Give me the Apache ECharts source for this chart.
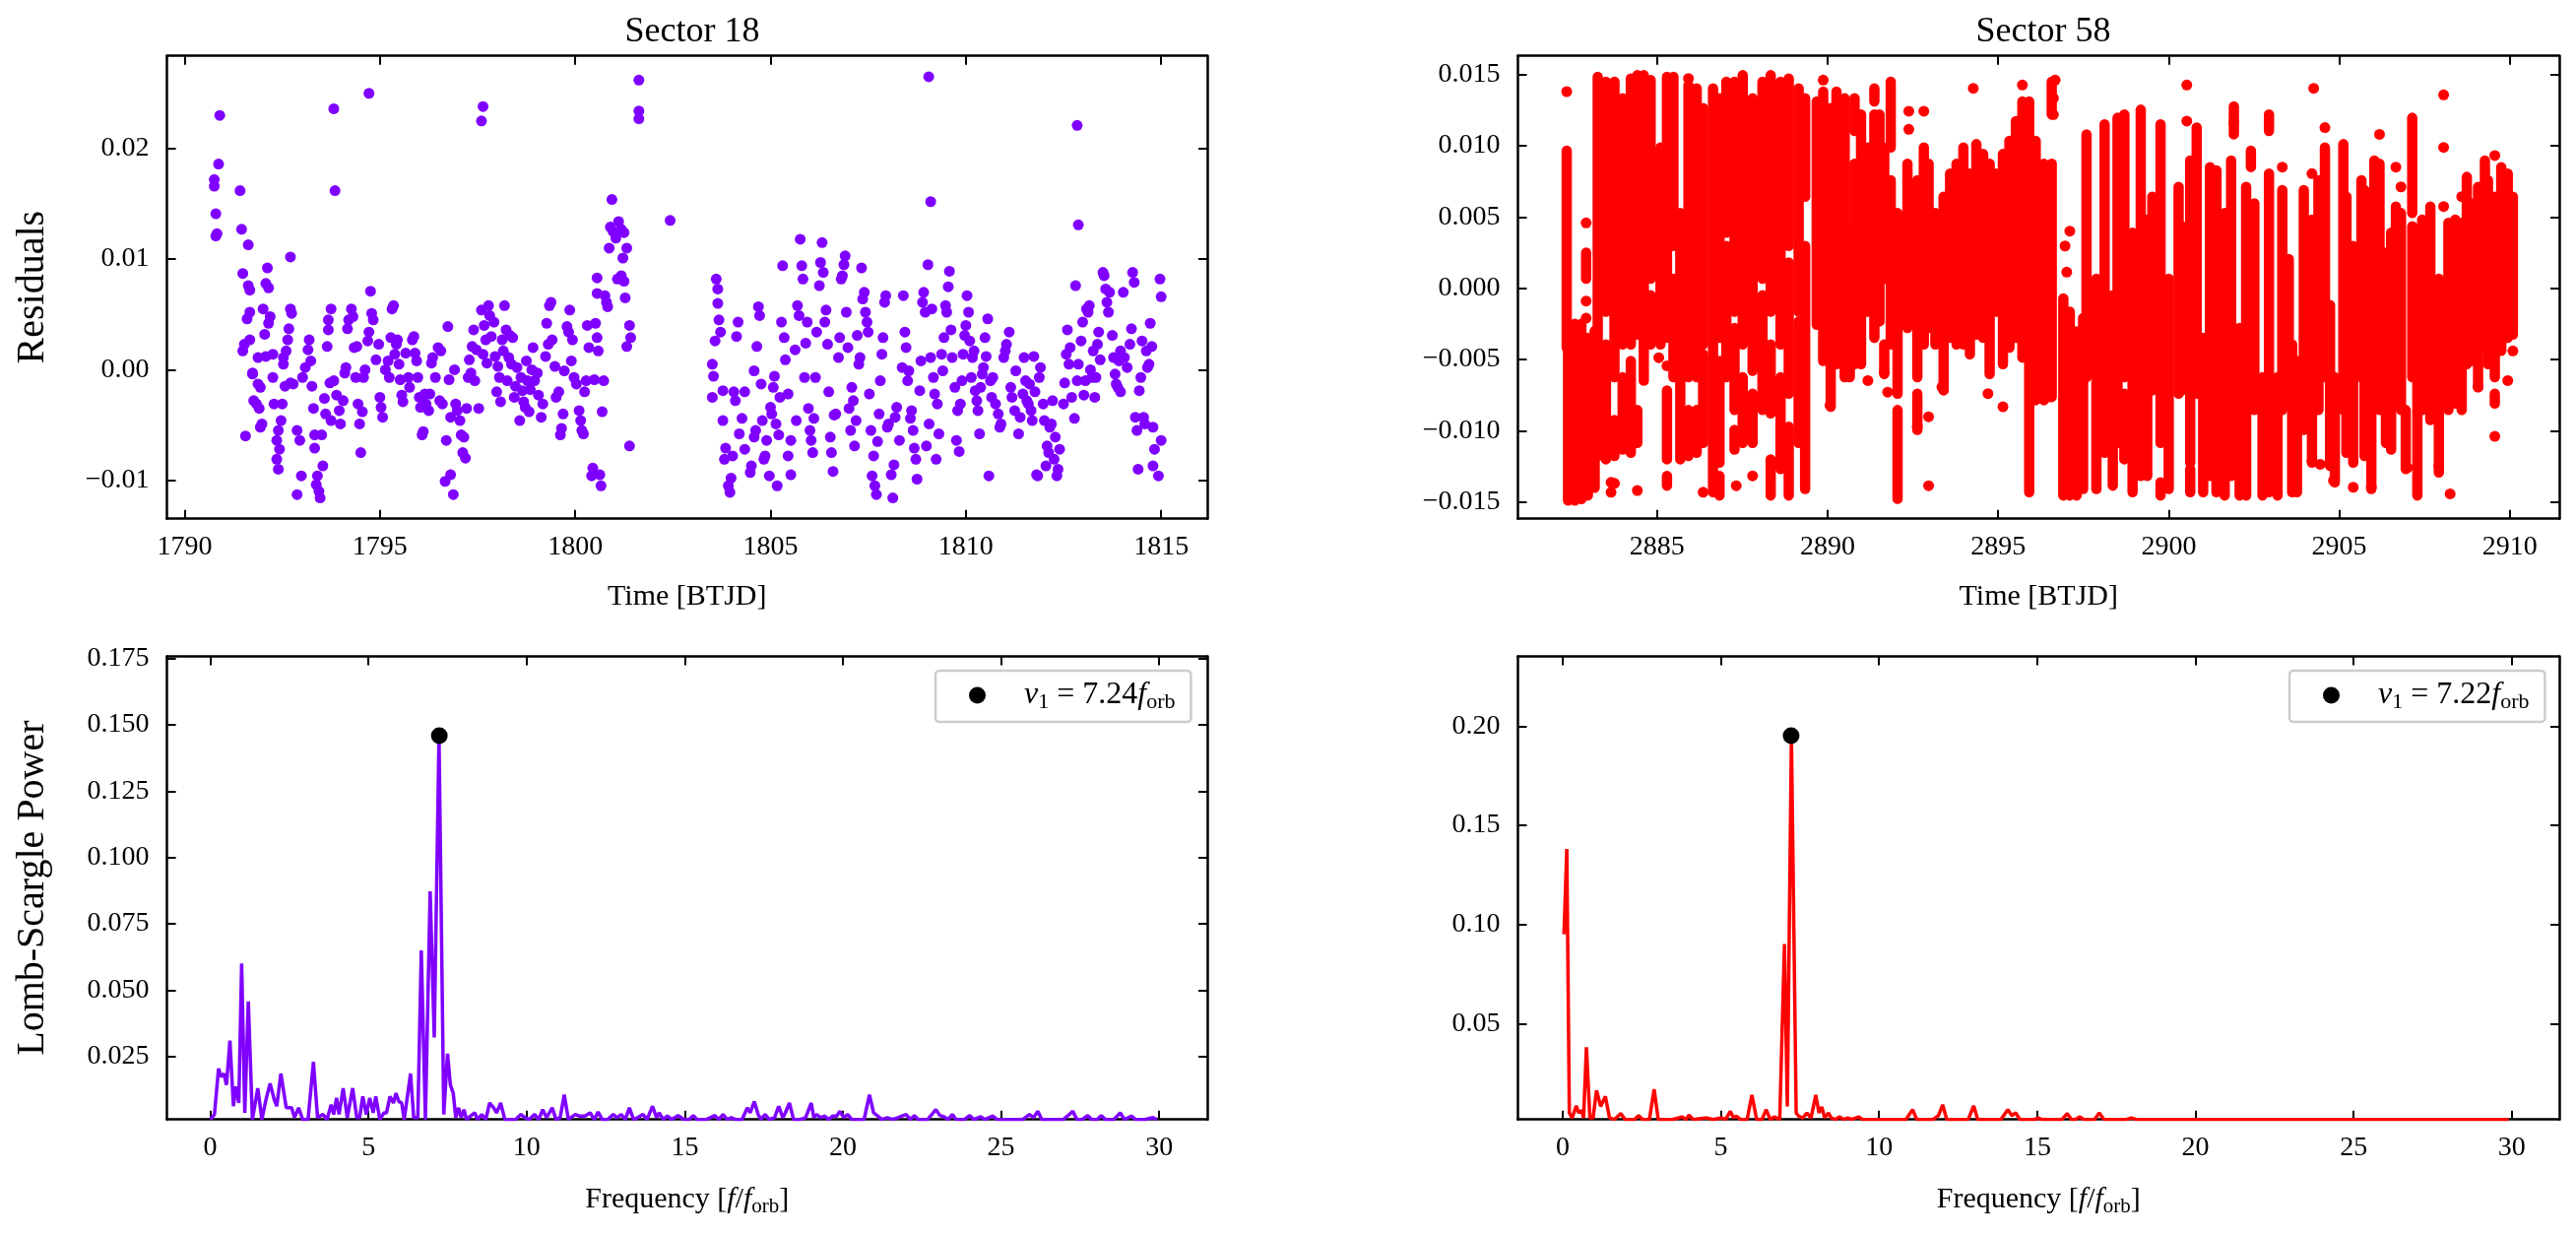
<!DOCTYPE html>
<html><head><meta charset="utf-8">
<script src="https://cdn.jsdelivr.net/npm/echarts@6/dist/echarts.min.js"></script>
<style>html,body{margin:0;padding:0;background:#fff}#c{width:2616px;height:1254px}</style>
</head><body><div id="c"></div>
<script>
// ---- Sector 18 residuals [time BTJD, residual] ----
const s18Points = [
[1790.90,0.0230],[1790.87,0.0186],[1790.76,0.0172],[1790.76,0.0166],[1790.80,0.0141],[1790.83,0.0123],[1790.80,0.0121],[1791.42,0.0162],[1791.46,0.0127],[1791.63,0.0113],[1791.49,0.0087],[1791.63,0.0076],[1791.67,0.0072],[1792.12,0.0092],[1792.08,0.0078],[1792.15,0.0074],[1792.71,0.0102],[1793.82,0.0236],[1793.85,0.0162],[1794.72,0.0250],[1794.76,0.0071],[1797.64,0.0238],[1797.60,0.0225],[1801.63,0.0262],[1801.63,0.0234],[1801.63,0.0227],[1800.94,0.0154],[1802.43,0.0135],[1800.90,0.0129],[1800.97,0.0125],[1801.18,0.0127],[1801.25,0.0124],[1801.04,0.0119],[1801.11,0.0134],[1800.87,0.0110],[1801.32,0.0110],[1801.22,0.0101],[1801.18,0.0085],[1801.25,0.0080],[1801.08,0.0082],[1800.56,0.0083],[1800.56,0.0069],[1800.83,0.0057],[1801.28,0.0065],[1801.39,0.0040],[1801.42,0.0029],[1801.32,0.0021],[1801.39,-0.0069],[1809.05,0.0265],[1809.10,0.0152],[1812.85,0.0221],[1812.88,0.0131],
[1791.53,0.0023],[1791.49,0.0017],[1791.67,0.0027],[1791.60,0.0046],[1791.67,0.0052],[1791.56,-0.0060],[1791.74,-0.0003],[1791.77,-0.0028],[1791.84,-0.0031],[1791.91,-0.0035],[1791.94,-0.0052],[1791.98,-0.0049],[1791.88,-0.0013],[1791.94,-0.0016],[1792.01,0.0055],[1792.05,0.0032],[1792.08,0.0012],[1791.88,0.0011],[1791.74,-0.0004],[1792.15,0.0042],[1792.19,0.0048],[1792.26,0.0014],[1792.26,-0.0007],[1792.29,-0.0031],[1792.40,-0.0055],[1792.36,-0.0064],[1792.43,-0.0072],[1792.36,-0.0081],[1792.40,-0.0090],[1792.47,-0.0046],[1792.50,-0.0031],[1792.53,0.0005],[1792.57,-0.0015],[1792.60,0.0017],[1792.64,0.0027],[1792.67,0.0037],[1792.71,0.0055],[1792.74,0.0051],[1792.78,-0.0013],[1792.71,-0.0012],[1792.53,0.0011],
[1792.88,-0.0055],[1792.95,-0.0064],[1792.99,-0.0096],[1792.88,-0.0113],[1793.02,-0.0007],[1793.09,0.0002],[1793.16,0.0018],[1793.19,0.0027],[1793.23,0.0008],[1793.26,-0.0015],[1793.30,-0.0035],[1793.33,-0.0059],[1793.33,-0.0071],[1793.40,-0.0096],[1793.37,-0.0104],[1793.44,-0.0110],[1793.47,-0.0116],[1793.54,-0.0087],[1793.51,-0.0059],[1793.58,-0.0026],[1793.61,-0.0040],[1793.65,0.0021],[1793.68,0.0045],[1793.75,0.0055],[1793.68,0.0036],[1793.72,-0.0012],[1793.75,-0.0046],
[1793.82,-0.0010],[1793.89,-0.0023],[1793.96,-0.0037],[1793.99,-0.0049],[1794.06,-0.0028],[1794.10,-0.0003],[1794.13,0.0002],[1794.17,0.0037],[1794.20,0.0045],[1794.27,0.0055],[1794.31,0.0048],[1794.34,0.0020],[1794.38,-0.0007],[1794.41,0.0021],[1794.44,-0.0031],[1794.48,-0.0049],[1794.51,-0.0075],[1794.55,-0.0038],[1794.58,-0.0007],[1794.62,0.0000],[1794.69,0.0026],[1794.72,0.0034],[1794.79,0.0051],[1794.83,0.0045],[1794.90,0.0009],[1794.97,0.0023],[1795.00,-0.0025],[1795.03,-0.0034],[1795.07,-0.0043],[1795.14,0.0000],
[1795.28,0.0029],[1795.31,0.0055],[1795.35,0.0058],[1795.21,0.0008],[1795.24,-0.0007],[1795.38,0.0014],[1795.42,0.0023],[1795.45,0.0027],[1795.49,0.0005],[1795.52,-0.0009],[1795.56,-0.0023],[1795.59,-0.0029],[1795.66,0.0015],[1795.73,-0.0007],[1795.76,-0.0016],[1795.83,0.0027],[1795.87,0.0030],[1795.90,0.0015],[1795.94,0.0008],[1795.97,-0.0007],[1796.01,-0.0025],[1796.04,-0.0034],[1796.08,-0.0059],[1796.11,-0.0056],[1796.15,-0.0022],[1796.18,-0.0031],[1796.25,-0.0037],[1796.28,-0.0022],[1796.32,0.0006],[1796.35,0.0011],
[1796.42,-0.0007],[1796.49,0.0020],[1796.53,-0.0028],[1796.56,0.0017],[1796.60,-0.0031],[1796.67,-0.0101],[1796.70,-0.0064],[1796.74,0.0039],[1796.77,-0.0009],[1796.81,-0.0043],[1796.81,-0.0095],[1796.88,-0.0113],[1796.91,0.0000],[1796.94,-0.0031],[1796.98,-0.0037],[1797.05,-0.0046],[1797.08,-0.0059],[1797.12,-0.0075],[1797.15,-0.0061],[1797.19,-0.0080],[1797.22,-0.0035],[1797.26,-0.0007],[1797.29,0.0009],[1797.33,-0.0003],[1797.36,0.0021],[1797.40,0.0036],[1797.43,-0.0010],[1797.47,0.0018],[1797.53,-0.0035],
[1797.60,0.0054],[1797.64,0.0014],[1797.67,0.0040],[1797.71,0.0027],[1797.74,0.0006],[1797.78,0.0058],[1797.81,0.0049],[1797.85,0.0030],[1797.92,0.0043],[1797.95,0.0012],[1797.99,-0.0020],[1798.02,0.0003],[1798.06,-0.0007],[1798.09,-0.0029],[1798.13,0.0027],[1798.16,0.0017],[1798.19,0.0058],[1798.23,0.0036],[1798.26,-0.0010],[1798.30,0.0011],[1798.33,0.0031],[1798.37,0.0005],[1798.40,0.0029],[1798.44,-0.0025],[1798.47,-0.0015],[1798.51,0.0002],[1798.58,-0.0046],[1798.61,-0.0007],[1798.65,-0.0019],
[1798.68,-0.0029],[1798.72,-0.0034],[1798.75,0.0008],[1798.78,-0.0010],[1798.82,-0.0038],[1798.85,-0.0018],[1798.89,0.0000],[1798.92,0.0020],[1798.96,-0.0010],[1799.03,-0.0003],[1799.06,-0.0023],[1799.13,-0.0043],[1799.17,-0.0031],[1799.24,0.0012],[1799.27,0.0042],[1799.31,0.0023],[1799.34,0.0058],[1799.38,0.0061],[1799.41,0.0027],[1799.48,0.0003],[1799.51,-0.0025],[1799.58,-0.0020],[1799.62,-0.0059],[1799.65,-0.0053],[1799.69,-0.0040],[1799.72,-0.0001],[1799.79,0.0039],[1799.83,0.0034],[1799.86,0.0054],[1799.90,0.0008],
[1799.93,0.0027],[1799.97,-0.0007],[1800.03,-0.0013],[1800.10,-0.0037],[1800.14,-0.0046],[1800.17,-0.0055],[1800.21,-0.0058],[1800.24,-0.0020],[1800.28,-0.0010],[1800.31,0.0040],[1800.35,0.0020],[1800.42,-0.0096],[1800.45,-0.0089],[1800.49,-0.0009],[1800.52,0.0042],[1800.56,0.0029],[1800.59,0.0017],[1800.63,-0.0095],[1800.66,-0.0105],[1800.69,-0.0038],[1800.73,-0.0010],[1800.76,0.0067],[1800.80,0.0061],
[1803.51,0.0005],[1803.54,-0.0006],[1803.51,-0.0025],[1803.58,0.0026],[1803.61,0.0082],[1803.65,0.0073],[1803.65,0.0060],[1803.68,0.0045],[1803.72,0.0034],[1803.78,-0.0019],[1803.78,-0.0046],[1803.82,-0.0081],[1803.85,-0.0071],[1803.92,-0.0105],[1803.96,-0.0111],[1803.99,-0.0098],[1804.03,-0.0078],[1804.06,-0.0020],[1804.10,-0.0028],[1804.13,0.0030],[1804.17,0.0043],[1804.20,-0.0058],[1804.27,-0.0044],[1804.34,-0.0020],[1804.34,-0.0072],
[1804.48,-0.0093],[1804.51,-0.0087],[1804.58,-0.0001],[1804.58,-0.0061],[1804.62,-0.0055],[1804.65,0.0021],[1804.69,0.0057],[1804.72,0.0049],[1804.76,-0.0013],[1804.79,-0.0046],[1804.83,-0.0081],[1804.86,-0.0078],[1804.90,-0.0064],[1804.97,-0.0096],[1805.00,-0.0034],[1805.03,-0.0040],[1805.07,-0.0016],[1805.10,-0.0006],[1805.14,-0.0049],[1805.17,-0.0105],[1805.21,-0.0059],[1805.24,-0.0025],[1805.28,0.0043],[1805.31,0.0094],[1805.35,0.0029],[1805.38,0.0009],[1805.45,-0.0022],[1805.45,-0.0078],[1805.52,-0.0064],[1805.52,-0.0095],
[1805.63,0.0018],[1805.66,-0.0046],[1805.69,0.0058],[1805.73,0.0049],[1805.76,0.0118],[1805.80,0.0094],[1805.83,0.0082],[1805.87,-0.0007],[1805.90,0.0024],[1805.94,0.0043],[1805.97,-0.0035],[1806.01,-0.0055],[1806.04,-0.0064],[1806.08,-0.0075],[1806.11,-0.0044],[1806.15,-0.0007],[1806.18,0.0034],[1806.25,0.0076],[1806.28,0.0097],[1806.32,0.0115],[1806.35,0.0088],[1806.39,0.0043],[1806.42,0.0054],[1806.46,0.0023],[1806.49,-0.0020],[1806.53,-0.0061],[1806.56,-0.0075],[1806.60,-0.0092],[1806.63,-0.0041],[1806.67,-0.0040],
[1806.74,0.0011],[1806.77,0.0029],[1806.81,0.0082],[1806.84,0.0085],[1806.88,0.0095],[1806.91,0.0103],[1806.94,0.0052],[1806.98,0.0020],[1807.01,-0.0035],[1807.05,-0.0055],[1807.08,-0.0016],[1807.12,-0.0028],[1807.15,-0.0069],[1807.19,-0.0046],[1807.22,0.0031],[1807.26,0.0005],[1807.29,0.0011],[1807.33,0.0092],[1807.36,0.0064],[1807.40,0.0070],[1807.43,0.0052],[1807.47,0.0043],[1807.50,0.0034],[1807.53,-0.0022],[1807.57,-0.0055],[1807.60,-0.0096],[1807.64,-0.0078],[1807.67,-0.0105],[1807.71,-0.0113],
[1807.74,-0.0065],[1807.78,-0.0040],[1807.81,-0.0010],[1807.85,0.0014],[1807.88,0.0029],[1807.92,0.0061],[1807.95,0.0067],[1807.99,-0.0052],[1808.02,-0.0049],[1808.09,-0.0095],[1808.13,-0.0116],[1808.16,-0.0086],[1808.19,-0.0043],[1808.23,-0.0034],[1808.30,-0.0064],[1808.37,0.0002],[1808.40,0.0067],[1808.44,0.0034],[1808.47,0.0020],[1808.51,-0.0010],[1808.54,-0.0001],[1808.58,-0.0044],[1808.61,-0.0037],[1808.65,-0.0055],[1808.68,-0.0071],[1808.72,-0.0081],[1808.75,-0.0099],
[1808.82,-0.0019],[1808.85,0.0008],[1808.89,0.0061],[1808.92,0.0070],[1808.96,0.0052],[1808.99,-0.0069],[1809.03,0.0095],[1809.06,-0.0049],[1809.10,0.0011],[1809.13,0.0055],[1809.17,-0.0007],[1809.20,-0.0022],[1809.24,-0.0081],[1809.27,-0.0031],[1809.31,-0.0058],[1809.38,0.0014],[1809.41,-0.0001],[1809.44,0.0029],[1809.48,0.0058],[1809.51,0.0052],[1809.55,0.0075],[1809.58,0.0089],[1809.62,0.0036],[1809.65,0.0011],[1809.72,-0.0016],[1809.76,-0.0064],[1809.79,-0.0037],[1809.83,-0.0074],
[1809.86,-0.0031],[1809.90,-0.0010],[1809.93,0.0014],[1809.97,0.0031],[1810.00,0.0040],[1810.03,0.0067],[1810.07,0.0052],[1810.10,0.0026],[1810.14,-0.0007],[1810.17,0.0011],[1810.21,0.0017],[1810.24,-0.0019],[1810.28,-0.0028],[1810.31,-0.0037],[1810.35,-0.0058],[1810.38,-0.0016],[1810.42,-0.0004],[1810.45,0.0002],[1810.49,0.0029],[1810.52,0.0012],[1810.56,0.0046],[1810.59,-0.0096],[1810.63,-0.0010],[1810.66,-0.0025],[1810.69,-0.0007],[1810.76,-0.0031],[1810.83,-0.0040],[1810.87,-0.0052],
[1810.90,-0.0049],[1810.97,0.0011],[1811.01,0.0017],[1811.04,0.0023],[1811.11,0.0034],[1811.15,-0.0016],[1811.18,-0.0025],[1811.25,-0.0037],[1811.28,-0.0001],[1811.35,-0.0058],[1811.39,-0.0043],[1811.46,-0.0022],[1811.49,0.0011],[1811.53,-0.0010],[1811.56,-0.0028],[1811.60,-0.0031],[1811.63,-0.0013],[1811.67,-0.0037],[1811.70,-0.0046],[1811.74,0.0012],[1811.77,-0.0020],[1811.81,-0.0095],[1811.84,-0.0096],[1811.88,-0.0007],[1811.91,0.0002],
[1811.98,-0.0031],[1812.01,-0.0046],[1812.05,-0.0087],[1812.08,-0.0069],[1812.12,-0.0075],[1812.15,-0.0052],[1812.19,-0.0049],[1812.22,-0.0028],[1812.26,-0.0081],[1812.29,-0.0061],[1812.33,-0.0096],[1812.36,-0.0090],[1812.40,-0.0072],[1812.50,-0.0031],[1812.53,-0.0012],[1812.57,0.0014],[1812.60,0.0036],[1812.64,0.0005],[1812.67,0.0020],[1812.71,-0.0025],[1812.78,-0.0044],[1812.81,0.0076],[1812.85,-0.0010],[1812.88,0.0005],[1812.95,0.0026],[1812.99,0.0043],[1813.02,-0.0023],
[1813.06,-0.0010],[1813.09,0.0055],[1813.13,0.0052],[1813.16,0.0058],[1813.19,0.0000],[1813.23,-0.0007],[1813.26,0.0017],[1813.30,-0.0025],[1813.33,-0.0007],[1813.37,0.0023],[1813.40,0.0034],[1813.44,0.0009],[1813.51,0.0088],[1813.54,0.0085],[1813.58,0.0073],[1813.61,0.0061],[1813.65,0.0052],[1813.68,0.0070],[1813.75,0.0031],[1813.78,0.0011],[1813.82,-0.0004],[1813.85,-0.0013],[1813.89,-0.0016],[1813.92,0.0008],[1813.96,-0.0020],[1813.96,0.0017],
[1814.03,0.0070],[1814.06,0.0011],[1814.13,0.0002],[1814.20,0.0023],[1814.24,0.0037],[1814.27,0.0088],[1814.31,0.0079],[1814.34,-0.0043],[1814.38,-0.0055],[1814.41,-0.0090],[1814.44,-0.0019],[1814.48,-0.0007],[1814.51,0.0026],[1814.55,-0.0043],[1814.58,-0.0049],[1814.62,0.0017],[1814.65,0.0002],[1814.69,0.0005],[1814.72,0.0042],[1814.76,0.0021],[1814.79,-0.0052],[1814.83,-0.0072],[1814.79,-0.0087],[1814.93,-0.0096],[1814.97,0.0082],[1815.00,0.0066],[1815.00,-0.0064]
];

// ---- Sector 58 residuals: dense runs of points [time, residual top, residual bottom] ----
const s58Streaks = [
[2882.35,0.00966,-0.00417],[2882.39,-0.00348,-0.01490],[2882.59,-0.00250,-0.01490],[2882.78,-0.00250,-0.01480],[2882.97,-0.00348,-0.01455],[2883.17,-0.00300,-0.01400],[2882.92,0.00251,0.00067],
[2883.26,0.01485,-0.01178],[2883.50,0.01450,-0.00164],[2883.50,-0.00394,-0.01201],[2883.75,0.01450,-0.00625],[2883.75,-0.00925,-0.01178],[2883.99,0.01335,-0.00394],[2883.99,-0.00625,-0.01132],
[2884.23,0.01473,-0.00394],[2884.23,-0.00510,-0.01155],[2884.42,0.01496,-0.00325],[2884.42,-0.00855,-0.01086],[2884.61,0.01496,-0.00648],[2884.81,0.01462,0.00067],[2884.81,-0.00048,-0.00394],
[2885.10,0.00989,-0.00394],[2885.29,0.01485,-0.00348],[2885.29,-0.00717,-0.01201],[2885.29,-0.01317,-0.01386],[2885.48,0.01485,0.00297],[2885.48,0.00067,-0.00625],[2885.68,0.00528,-0.01201],
[2885.92,0.01427,-0.00625],[2885.92,-0.00855,-0.01178],[2886.16,0.01404,-0.00625],[2886.16,-0.00855,-0.01155],[2886.35,0.01266,-0.00394],[2886.35,-0.00463,-0.01086],[2886.64,0.01404,-0.01432],
[2886.83,0.01335,-0.00348],[2886.83,-0.00510,-0.01224],[2886.83,-0.01317,-0.01455],[2887.03,0.01450,0.00390],[2887.03,0.00297,-0.00625],[2887.27,0.01450,-0.00164],[2887.27,-0.00279,-0.00855],[2887.27,-0.00994,-0.01132],
[2887.51,0.01496,-0.00394],[2887.51,-0.00625,-0.01086],[2887.80,0.01335,-0.00579],[2887.80,-0.00740,-0.01086],[2888.09,0.01450,0.00067],[2888.09,-0.00048,-0.00855],[2888.33,0.01496,-0.00164],[2888.33,-0.00394,-0.00878],[2888.33,-0.01201,-0.01455],
[2888.62,0.01450,-0.00394],[2888.62,-0.00625,-0.01270],[2888.86,0.01473,0.00297],[2888.86,0.00182,-0.00740],[2888.86,-0.00971,-0.01455],[2889.15,0.01404,-0.00164],[2889.15,-0.00233,-0.01086],[2889.34,0.01335,0.00643],[2889.34,0.00297,-0.01409],
[2889.68,0.01312,-0.00256],[2889.87,0.01381,-0.00510],[2890.09,0.01266,-0.00832],[2890.26,0.01381,-0.00533],[2890.50,0.01335,-0.00625],[2890.65,0.00390,-0.00625],[2890.79,0.01335,0.01104],[2890.79,0.00874,-0.00533],
[2890.98,0.01220,-0.00533],[2891.18,0.00989,-0.00164],[2891.37,0.01404,0.01312],[2891.37,0.01220,-0.00348],[2891.52,0.01220,-0.00233],[2891.66,0.00989,0.00067],[2891.66,-0.00394,-0.00602],[2891.85,0.01450,0.00989],[2891.85,0.00759,-0.00394],
[2892.05,0.00528,-0.00740],[2892.05,-0.00855,-0.01478],[2892.34,0.00874,-0.00279],[2892.63,0.00759,-0.00625],[2892.63,-0.00740,-0.00994],[2892.82,0.00989,-0.00394],[2892.96,0.00874,-0.00279],[2893.16,0.00528,-0.00394],
[2893.40,0.00643,-0.00717],[2893.59,0.00805,-0.00348],[2893.78,0.00874,-0.00394],[2893.98,0.00989,-0.00394],[2894.17,0.00805,-0.00463],[2894.36,0.01012,-0.00325],[2894.56,0.00943,-0.00348],[2894.75,0.00874,-0.00602],
[2894.94,0.00805,-0.00164],[2895.14,0.00943,-0.00533],[2895.33,0.01035,-0.00417],[2895.52,0.01174,-0.00348],[2895.71,0.01312,-0.00487],[2895.91,0.01312,-0.01432],[2896.10,0.01035,-0.00786],[2896.34,0.00874,-0.00786],[2896.57,0.01450,0.01220],[2896.57,0.00874,-0.00763],
[2896.91,-0.00071,-0.01455],[2897.10,-0.00164,-0.01455],[2897.30,-0.00302,-0.01455],[2897.49,-0.00210,-0.01409],[2897.59,0.01081,-0.00625],[2897.88,0.00067,-0.01409],[2898.12,0.01151,-0.01155],[2898.36,-0.00048,-0.01386],
[2898.50,0.01197,-0.01086],[2898.70,0.01220,-0.00625],[2898.70,-0.00740,-0.01201],[2898.94,0.00390,-0.01432],[2899.18,0.01254,-0.01317],[2899.37,0.00482,-0.01317],[2899.52,0.00643,-0.00717],[2899.76,0.01151,-0.01086],[2899.76,-0.01363,-0.01455],
[2900.00,0.00067,-0.01409],[2900.29,0.00712,-0.00740],[2900.39,0.00436,-0.00717],[2900.63,0.00897,-0.01224],[2900.63,-0.01270,-0.01432],[2900.82,0.01128,-0.00740],[2901.01,-0.00348,-0.01432],[2901.21,0.00851,-0.01317],
[2901.40,0.00828,-0.01432],[2901.64,0.00528,-0.01455],[2901.83,0.00897,-0.01317],[2901.91,0.01277,0.01081],[2902.08,-0.00279,-0.01455],[2902.27,0.00712,-0.01455],[2902.41,0.00966,0.00851],[2902.51,0.00597,-0.00855],
[2902.75,-0.00625,-0.01455],[2902.94,0.01220,0.01104],[2902.94,0.00805,-0.01432],[2903.19,-0.00625,-0.01455],[2903.33,0.00689,-0.00855],[2903.52,0.00205,-0.00717],[2903.62,-0.00394,-0.01432],[2903.76,-0.00510,-0.01432],
[2903.96,0.00689,-0.00994],[2904.20,0.00482,-0.01224],[2904.39,0.00759,-0.00855],[2904.58,0.00989,-0.00625],[2904.73,-0.00118,-0.01247],[2904.87,-0.00625,-0.01363],[2905.12,0.01012,-0.00855],[2905.21,0.00643,-0.01155],
[2905.41,0.00297,-0.01224],[2905.65,0.00759,-0.00625],[2905.74,0.00689,-0.01178],[2905.94,-0.00625,-0.01409],[2906.03,0.00897,-0.00625],[2906.18,0.00874,-0.00855],[2906.37,0.00251,-0.01086],[2906.52,0.00390,-0.01132],
[2906.66,0.00574,-0.00625],[2906.81,0.00528,-0.00855],[2906.95,-0.00855,-0.01270],[2907.14,0.01197,0.00528],[2907.14,0.00436,-0.00625],[2907.29,0.00413,-0.01455],[2907.43,0.00482,-0.00855],[2907.67,0.00574,-0.00925],
[2907.92,0.00067,-0.01294],[2908.20,0.00459,-0.00855],[2908.40,0.00482,-0.00809],[2908.59,0.00459,-0.00855],[2908.74,0.00782,-0.00533],[2908.88,0.00597,-0.00510],[2909.07,0.00712,-0.00694],[2909.27,0.00897,-0.00394],
[2909.36,0.00759,-0.00533],[2909.56,0.00643,-0.00625],[2909.56,-0.00740,-0.00809],[2909.75,0.00851,-0.00440],[2909.94,0.00805,-0.00348],[2910.09,0.00643,-0.00325]
];
// ---- Sector 58 isolated points [time, residual] ----
const s58Dots = [
[2882.35,0.01381],[2882.92,0.00459],[2882.92,-0.00090],[2882.92,-0.00210],[2885.92,0.01473],[2889.87,0.01462],[2895.71,0.01427],[2894.27,0.01404],[2892.82,0.01243],[2892.38,0.01243],[2892.38,0.01116],
[2890.07,-0.00821],[2892.96,-0.00902],[2892.96,-0.01386],[2892.63,-0.00971],[2895.14,-0.00832],[2894.70,-0.00740],[2893.35,-0.00694],[2891.18,-0.00648],[2887.32,-0.01386],[2884.42,-0.01420],[2883.65,-0.01363],[2883.65,-0.01432],
[2885.05,-0.00487],[2885.29,-0.00544],[2891.66,-0.00590],[2891.76,-0.00729],[2886.35,-0.01432],[2887.80,-0.01317],[2883.75,-0.01370],[2896.67,0.01462],[2896.62,0.01335],[2896.62,0.01220],[2900.53,0.01427],[2900.53,0.01174],
[2904.25,0.01404],[2908.06,0.01358],[2908.06,0.00989],[2908.06,0.00574],[2901.91,0.01162],[2904.58,0.01128],[2906.18,0.01081],[2909.56,0.00932],[2909.56,-0.01040],[2908.25,-0.01443],[2905.94,-0.01397],[2905.41,-0.01397],
[2904.83,-0.01351],[2909.07,-0.00694],[2909.94,-0.00648],[2897.01,0.00113],[2896.96,0.00297],[2897.10,0.00401],[2896.53,-0.00763],[2904.20,-0.01213],[2904.44,-0.01236],[2907.00,-0.01259],[2907.92,-0.01247],
[2903.33,0.00851],[2906.66,0.00851],[2906.81,0.00712],[2904.20,0.00805],[2908.59,0.00643],[2910.09,-0.00440]
];

// ---- Lomb-Scargle periodograms [f/f_orb, power] ----
const ls18 = [
[0,0.0012],[0.13,0.0031],[0.26,0.0204],[0.34,0.0173],[0.43,0.0185],[0.51,0.0142],[0.62,0.0309],[0.73,0.0062],[0.81,0.0136],[0.90,0.0074],[0.99,0.0600],[1.09,0.0037],[1.20,0.0457],[1.33,0.0012],[1.50,0.0130],[1.63,0.0012],[1.76,0.0087],[1.89,0.0148],[2.02,0.0087],[2.10,0.0062],[2.23,0.0185],[2.40,0.0056],[2.57,0.0056],[2.66,0.0019],[2.79,0.0056],[2.92,0.0012],[3.09,0.0012],[3.26,0.0229],[3.39,0.0019],[3.56,0.0031],[3.69,0.0012],[3.82,0.0068],[3.90,0.0031],[3.99,0.0093],[4.07,0.0031],[4.20,0.0130],[4.33,0.0019],[4.50,0.0130],[4.63,0.0019],[4.72,0.0019],[4.82,0.0099],[4.93,0.0031],[5.04,0.0093],[5.15,0.0037],[5.23,0.0099],[5.36,0.0012],[5.49,0.0037],[5.57,0.0037],[5.68,0.0099],[5.79,0.0074],[5.87,0.0111],[5.96,0.0080],[6.05,0.0074],[6.13,0.0012],[6.33,0.0185],[6.43,0.0019],[6.56,0.0019],[6.67,0.0649],[6.80,0.0012],[6.95,0.0872],[7.08,0.0321],[7.23,0.1459],[7.38,0.0031],[7.50,0.0260],[7.59,0.0142],[7.68,0.0111],[7.76,0.0019],[7.85,0.0056],[7.93,0.0019],[8.02,0.0049],[8.10,0.0012],[8.23,0.0025],[8.36,0.0037],[8.45,0.0012],[8.58,0.0031],[8.71,0.0012],[8.83,0.0074],[8.96,0.0056],[9.05,0.0037],[9.18,0.0074],[9.31,0.0012],[9.48,0.0012],[9.65,0.0012],[9.82,0.0031],[9.95,0.0019],[10.08,0.0012],[10.25,0.0031],[10.38,0.0012],[10.51,0.0049],[10.63,0.0019],[10.81,0.0056],[10.93,0.0012],[11.06,0.0019],[11.19,0.0105],[11.32,0.0012],[11.54,0.0031],[11.66,0.0025],[11.84,0.0025],[12.01,0.0037],[12.14,0.0012],[12.26,0.0040],[12.39,0.0012],[12.56,0.0012],[12.74,0.0031],[12.86,0.0019],[12.99,0.0031],[13.12,0.0012],[13.25,0.0056],[13.38,0.0012],[13.51,0.0019],[13.68,0.0031],[13.81,0.0012],[13.98,0.0062],[14.11,0.0019],[14.19,0.0037],[14.32,0.0012],[14.45,0.0025],[14.58,0.0012],[14.79,0.0027],[14.97,0.0012],[15.14,0.0012],[15.27,0.0027],[15.39,0.0012],[15.69,0.0012],[15.95,0.0027],[16.08,0.0012],[16.21,0.0031],[16.34,0.0012],[16.47,0.0019],[16.60,0.0012],[16.81,0.0012],[16.98,0.0056],[17.07,0.0037],[17.20,0.0080],[17.32,0.0031],[17.41,0.0012],[17.54,0.0031],[17.67,0.0012],[17.84,0.0019],[17.97,0.0062],[18.10,0.0019],[18.18,0.0037],[18.31,0.0074],[18.44,0.0012],[18.65,0.0012],[18.82,0.0019],[19.00,0.0074],[19.08,0.0019],[19.17,0.0031],[19.30,0.0019],[19.43,0.0025],[19.55,0.0012],[19.68,0.0025],[19.81,0.0025],[19.90,0.0043],[20.03,0.0019],[20.15,0.0031],[20.28,0.0012],[20.50,0.0012],[20.67,0.0012],[20.84,0.0105],[20.97,0.0037],[21.10,0.0025],[21.23,0.0012],[21.40,0.0019],[21.57,0.0012],[21.74,0.0019],[21.87,0.0025],[22.00,0.0031],[22.13,0.0012],[22.26,0.0027],[22.38,0.0012],[22.68,0.0012],[22.94,0.0049],[23.07,0.0027],[23.20,0.0022],[23.33,0.0012],[23.46,0.0031],[23.58,0.0012],[23.84,0.0012],[24.01,0.0027],[24.14,0.0012],[24.36,0.0022],[24.49,0.0012],[24.74,0.0025],[24.87,0.0012],[25.17,0.0012],[25.39,0.0012],[25.69,0.0012],[25.90,0.0031],[26.03,0.0019],[26.16,0.0043],[26.29,0.0012],[26.54,0.0012],[26.76,0.0012],[26.97,0.0012],[27.10,0.0025],[27.27,0.0043],[27.40,0.0012],[27.57,0.0012],[27.74,0.0027],[27.87,0.0012],[28.04,0.0012],[28.17,0.0027],[28.30,0.0012],[28.56,0.0012],[28.77,0.0037],[28.90,0.0012],[29.12,0.0025],[29.25,0.0012],[29.55,0.0012],[29.80,0.0019],[29.93,0.0012]
];
const ls58 = [
[0.04,0.0951],[0.13,0.1381],[0.21,0.0050],[0.30,0.0025],[0.43,0.0086],[0.51,0.0050],[0.60,0.0063],[0.66,0.0025],[0.75,0.0381],[0.86,0.0025],[0.96,0.0025],[1.07,0.0163],[1.20,0.0083],[1.35,0.0133],[1.48,0.0025],[1.63,0.0017],[1.84,0.0047],[1.97,0.0017],[2.27,0.0017],[2.40,0.0037],[2.53,0.0017],[2.74,0.0017],[2.89,0.0169],[3.02,0.0017],[3.47,0.0017],[3.77,0.0030],[3.90,0.0017],[3.99,0.0040],[4.12,0.0017],[4.55,0.0025],[4.76,0.0017],[5.02,0.0025],[5.15,0.0017],[5.30,0.0058],[5.40,0.0025],[5.49,0.0034],[5.62,0.0017],[5.83,0.0017],[5.98,0.0141],[6.13,0.0017],[6.30,0.0017],[6.43,0.0067],[6.56,0.0017],[6.69,0.0030],[6.86,0.0017],[7.01,0.0902],[7.10,0.0083],[7.23,0.1952],[7.38,0.0050],[7.46,0.0034],[7.59,0.0025],[7.72,0.0050],[7.85,0.0025],[8.00,0.0141],[8.10,0.0050],[8.19,0.0080],[8.28,0.0025],[8.40,0.0050],[8.49,0.0025],[8.62,0.0017],[8.75,0.0030],[8.88,0.0017],[9.01,0.0025],[9.13,0.0017],[9.35,0.0030],[9.48,0.0017],[10.85,0.0017],[11.06,0.0067],[11.19,0.0017],[11.71,0.0017],[11.88,0.0037],[12.01,0.0091],[12.14,0.0017],[12.82,0.0017],[12.99,0.0086],[13.12,0.0017],[13.85,0.0017],[14.07,0.0067],[14.19,0.0037],[14.32,0.0050],[14.45,0.0017],[14.92,0.0017],[15.03,0.0025],[15.14,0.0017],[15.78,0.0017],[15.95,0.0047],[16.08,0.0017],[16.21,0.0017],[16.34,0.0030],[16.47,0.0017],[16.81,0.0017],[16.96,0.0050],[17.11,0.0017],[17.82,0.0017],[17.97,0.0025],[18.14,0.0017],[29.90,0.0017]
];
const peak18 = [[7.24, 0.1459]];
const peak58 = [[7.22, 0.1952]];

// ---- tick values ----
const tickTime18 = [1790,1795,1800,1805,1810,1815];
const tickTime58 = [2885,2890,2895,2900,2905,2910];
const tickRes18 = [-0.01,0,0.01,0.02];
const tickRes58 = [-0.015,-0.01,-0.005,0,0.005,0.01,0.015];
const tickFreq = [0,5,10,15,20,25,30];
const tickPow18 = [0.025,0.05,0.075,0.1,0.125,0.15,0.175];
const tickPow58 = [0.05,0.1,0.15,0.2];

const FONT = '"Liberation Serif","DejaVu Serif",serif';
const PURPLE = '#7f00ff', RED = '#ff0000';
const fmt = d => v => (v < 0 ? '\u2212' : '') + Math.abs(v).toFixed(d);
const line = {show:true, onZero:false, lineStyle:{color:'#000', width:2.5}};
const tick = vals => ({show:true, inside:true, length:9, customValues:vals, lineStyle:{color:'#000', width:2}});
const richName = {
  n:{fontFamily:FONT, fontSize:30, color:'#000'},
  it:{fontFamily:FONT, fontSize:30, fontStyle:'italic', color:'#000'},
  sub:{fontFamily:FONT, fontSize:21, color:'#000', padding:[14,0,0,0]}
};
const richLegend = {
  sp:{width:34},
  n:{fontFamily:FONT, fontSize:32, color:'#000'},
  it:{fontFamily:FONT, fontSize:32, fontStyle:'italic', color:'#000'},
  sub:{fontFamily:FONT, fontSize:22, color:'#000', padding:[14,0,0,0]}
};

function xPair(g, min, max, ticks, name) {
  return [
    {type:'value', gridIndex:g, position:'bottom', min, max, axisLine:line, axisTick:tick(ticks),
     axisLabel:{show:true, customValues:ticks, margin:15, color:'#000', fontFamily:FONT, fontSize:28, formatter:v=>String(v)},
     splitLine:{show:false}, name, nameLocation:'middle', nameGap:64,
     nameTextStyle:{fontFamily:FONT, fontSize:30, color:'#000', rich:richName}},
    {type:'value', gridIndex:g, position:'top', min, max, axisLine:line, axisTick:tick(ticks),
     axisLabel:{show:false}, splitLine:{show:false}}
  ];
}
function yPair(g, min, max, ticks, dec, name) {
  return [
    {type:'value', gridIndex:g, position:'left', min, max, axisLine:line, axisTick:tick(ticks),
     axisLabel:{show:true, customValues:ticks, margin:18, color:'#000', fontFamily:FONT, fontSize:28, formatter:fmt(dec)},
     splitLine:{show:false}, name:name||'', nameLocation:'middle', nameGap:116,
     nameTextStyle:{fontFamily:FONT, fontSize:40, color:'#000'}},
    {type:'value', gridIndex:g, position:'right', min, max, axisLine:line, axisTick:tick(ticks),
     axisLabel:{show:false}, splitLine:{show:false}}
  ];
}
function legendAt(left, seriesName, value) {
  return {data:[seriesName], left, top:681, icon:'circle', itemWidth:17, itemHeight:17, padding:[9,16,9,34],
    selectedMode:false, backgroundColor:'rgba(255,255,255,0.8)', borderColor:'#cccccc', borderWidth:2.5, borderRadius:4,
    formatter:()=>'{sp|}{it|\u03bd}{sub|1}{n| = ' + value + '}{it|f}{sub|orb}',
    textStyle:{fontFamily:FONT, fontSize:32, color:'#000', rich:richLegend}};
}

const freqName = '{n|Frequency [}{it|f}{n|/}{it|f}{sub|orb}{n|]}';
const chart = echarts.init(document.getElementById('c'), null, {renderer:'canvas'});
chart.setOption({
  animation:false,
  backgroundColor:'#fff',
  title:[
    {text:'Sector 18', left:698, top:10, textAlign:'center', textStyle:{fontFamily:FONT, fontSize:36, fontWeight:'normal', color:'#000'}},
    {text:'Sector 58', left:2070, top:10, textAlign:'center', textStyle:{fontFamily:FONT, fontSize:36, fontWeight:'normal', color:'#000'}}
  ],
  grid:[
    {left:169.6, top:56.7, width:1056.4, height:470},
    {left:1541.5, top:56.7, width:1057.5, height:470},
    {left:169.6, top:666.5, width:1056.4, height:470.2},
    {left:1541.5, top:666.5, width:1057.5, height:470.2}
  ],
  xAxis:[
    ...xPair(0, 1789.55, 1816.18, tickTime18, 'Time [BTJD]'),
    ...xPair(1, 2880.92, 2911.45, tickTime58, 'Time [BTJD]'),
    ...xPair(2, -1.37, 31.52, tickFreq, freqName),
    ...xPair(3, -1.415, 31.50, tickFreq, freqName)
  ],
  yAxis:[
    ...yPair(0, -0.01348, 0.02839, tickRes18, 2, 'Residuals'),
    ...yPair(1, -0.01618, 0.01632, tickRes58, 3),
    ...yPair(2, 0.0012, 0.1758, tickPow18, 3, 'Lomb-Scargle Power'),
    ...yPair(3, 0.0017, 0.2352, tickPow58, 2)
  ],
  legend:[ legendAt(950, 'peak18', '7.24'), legendAt(2325, 'peak58', '7.22') ],
  series:[
    {type:'scatter', name:'s18', xAxisIndex:0, yAxisIndex:0, data:s18Points, symbolSize:11, itemStyle:{color:PURPLE, opacity:1}, silent:true},
    {type:'custom', name:'s58runs', xAxisIndex:2, yAxisIndex:2, data:s58Streaks, encode:{x:0, y:[1,2]}, silent:true,
     renderItem:(params, api) => {
       const a = api.coord([api.value(0), api.value(1)]);
       const b = api.coord([api.value(0), api.value(2)]);
       return {type:'line', shape:{x1:a[0], y1:a[1], x2:b[0], y2:b[1]}, style:{stroke:RED, lineWidth:10.5, lineCap:'round'}};
     }},
    {type:'scatter', name:'s58', xAxisIndex:2, yAxisIndex:2, data:s58Dots, symbolSize:11, itemStyle:{color:RED, opacity:1}, silent:true},
    {type:'line', name:'ls18', xAxisIndex:4, yAxisIndex:4, data:ls18, showSymbol:false, lineStyle:{color:PURPLE, width:3.5}, silent:true},
    {type:'scatter', name:'peak18', xAxisIndex:4, yAxisIndex:4, data:peak18, symbolSize:17, itemStyle:{color:'#000', opacity:1}, z:5},
    {type:'line', name:'ls58', xAxisIndex:6, yAxisIndex:6, data:ls58, showSymbol:false, lineStyle:{color:RED, width:3.5}, silent:true},
    {type:'scatter', name:'peak58', xAxisIndex:6, yAxisIndex:6, data:peak58, symbolSize:17, itemStyle:{color:'#000', opacity:1}, z:5}
  ]
});
</script>
</body></html>
